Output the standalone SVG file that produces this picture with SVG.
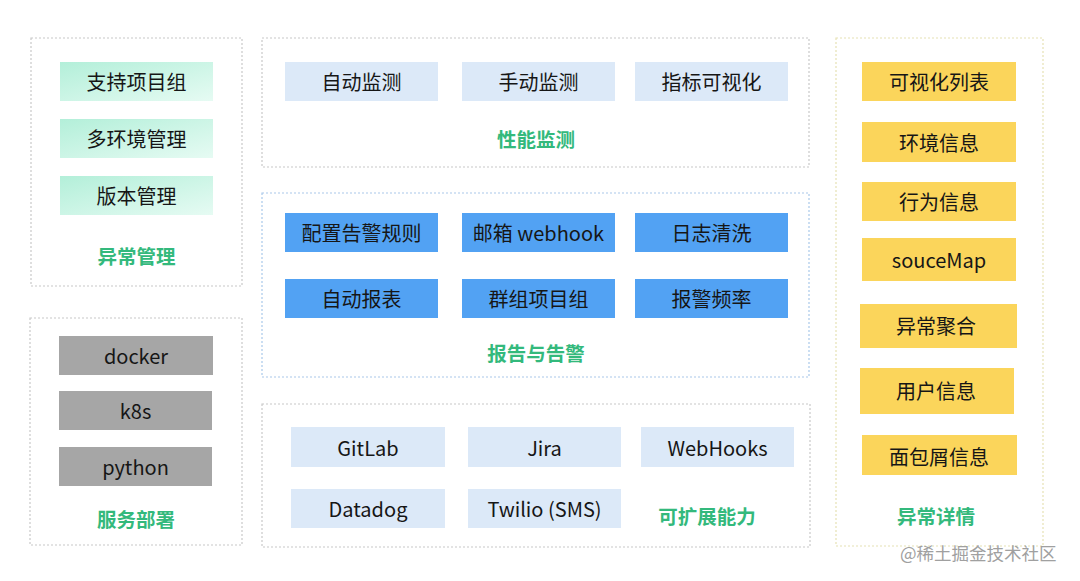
<svg xmlns="http://www.w3.org/2000/svg" width="1080" height="581" viewBox="0 0 1080 581">
<defs>
<linearGradient id="mint" x1="0" y1="0" x2="1" y2="1">
<stop offset="0" stop-color="#b3efd9"/>
<stop offset="1" stop-color="#e6fbf3"/>
</linearGradient>
<style>
.frame{fill:#ffffff;stroke:#c8c8c8;stroke-width:1.2;stroke-dasharray:2 2}
.frame-blue{fill:#ffffff;stroke:#a9c8ea;stroke-width:1.2;stroke-dasharray:2 2}
.frame-yellow{fill:#ffffff;stroke:#e6e2b4;stroke-width:1.2;stroke-dasharray:2 2}
.g{fill:url(#mint)}
.gray{fill:#a6a6a6}
.lb{fill:#dce9f8}
.db{fill:#52a2f3}
.y{fill:#fbd55b}
text{font-family:"Noto Sans CJK SC","Noto Sans",sans-serif;text-anchor:middle;dominant-baseline:central}
.t{font-size:20px;fill:#161616;font-weight:400}
.lab{font-size:19.5px;fill:#33b97c;font-weight:700}
.wm{font-size:17.5px;fill:#a0a0a0;text-anchor:start;font-weight:400}
</style>
</defs>
<rect width="1080" height="581" fill="#ffffff"/>

<g id="exception-mgmt">
<rect class="frame" x="31" y="38" width="211" height="248"/>
<rect class="g" x="60" y="62" width="153" height="39"/>
<text class="t" x="136.5" y="81.5">支持项目组</text>
<rect class="g" x="60" y="119" width="153" height="39"/>
<text class="t" x="136.5" y="138.5">多环境管理</text>
<rect class="g" x="60" y="176" width="153" height="39"/>
<text class="t" x="136.5" y="195.5">版本管理</text>
<text class="lab" x="136.5" y="255">异常管理</text>
</g>

<g id="deploy">
<rect class="frame" x="30" y="318" width="212" height="227"/>
<rect class="gray" x="59" y="336" width="154" height="39"/>
<text class="t" x="136" y="355.5">docker</text>
<rect class="gray" x="59" y="391" width="153" height="39"/>
<text class="t" x="135.5" y="410.5">k8s</text>
<rect class="gray" x="59" y="447" width="153" height="39"/>
<text class="t" x="135.5" y="466.5">python</text>
<text class="lab" x="136" y="518">服务部署</text>
</g>

<g id="perf">
<rect class="frame" x="262" y="38" width="547" height="129"/>
<rect class="lb" x="285" y="62" width="153" height="39"/>
<text class="t" x="361.5" y="81.5">自动监测</text>
<rect class="lb" x="462" y="62" width="153" height="39"/>
<text class="t" x="538.5" y="81.5">手动监测</text>
<rect class="lb" x="635" y="62" width="153" height="39"/>
<text class="t" x="711.5" y="81.5">指标可视化</text>
<text class="lab" x="536" y="138">性能监测</text>
</g>

<g id="report">
<rect class="frame-blue" x="262" y="193" width="547" height="184"/>
<rect class="db" x="285" y="213" width="153" height="39"/>
<text class="t" x="361.5" y="232.5">配置告警规则</text>
<rect class="db" x="462" y="213" width="153" height="39"/>
<text class="t" x="538.5" y="232.5">邮箱 webhook</text>
<rect class="db" x="635" y="213" width="153" height="39"/>
<text class="t" x="711.5" y="232.5">日志清洗</text>
<rect class="db" x="285" y="279" width="153" height="39"/>
<text class="t" x="361.5" y="298.5">自动报表</text>
<rect class="db" x="462" y="279" width="153" height="39"/>
<text class="t" x="538.5" y="298.5">群组项目组</text>
<rect class="db" x="635" y="279" width="153" height="39"/>
<text class="t" x="711.5" y="298.5">报警频率</text>
<text class="lab" x="536" y="352">报告与告警</text>
</g>

<g id="extend">
<rect class="frame" x="262" y="404" width="548" height="143"/>
<rect class="lb" x="291" y="427" width="154" height="40"/>
<text class="t" x="368" y="447">GitLab</text>
<rect class="lb" x="468" y="427" width="153" height="40"/>
<text class="t" x="544.5" y="447">Jira</text>
<rect class="lb" x="641" y="427" width="153" height="40"/>
<text class="t" x="717.5" y="447">WebHooks</text>
<rect class="lb" x="291" y="489" width="154" height="39"/>
<text class="t" x="368" y="508.5">Datadog</text>
<rect class="lb" x="468" y="489" width="153" height="39"/>
<text class="t" x="544.5" y="508.5">Twilio (SMS)</text>
<text class="lab" x="707" y="515">可扩展能力</text>
</g>

<g id="detail">
<rect class="frame-yellow" x="836" y="38" width="207" height="508"/>
<rect class="y" x="862" y="62" width="154" height="39"/>
<text class="t" x="939" y="81.5">可视化列表</text>
<rect class="y" x="862" y="122" width="154" height="40"/>
<text class="t" x="939" y="142">环境信息</text>
<rect class="y" x="862" y="182" width="154" height="39"/>
<text class="t" x="939" y="201.5">行为信息</text>
<rect class="y" x="862" y="238" width="154" height="43"/>
<text class="t" x="939" y="259.5">souceMap</text>
<rect class="y" x="860" y="304" width="157" height="44"/>
<text class="t" x="936" y="325">异常聚合</text>
<rect class="y" x="860" y="368" width="154" height="46"/>
<text class="t" x="936" y="390">用户信息</text>
<rect class="y" x="862" y="435" width="155" height="40"/>
<text class="t" x="939" y="456">面包屑信息</text>
<text class="lab" x="936" y="515">异常详情</text>
</g>

<g id="connectors"></g>

<text class="wm" x="900" y="552">@稀土掘金技术社区</text>
</svg>
